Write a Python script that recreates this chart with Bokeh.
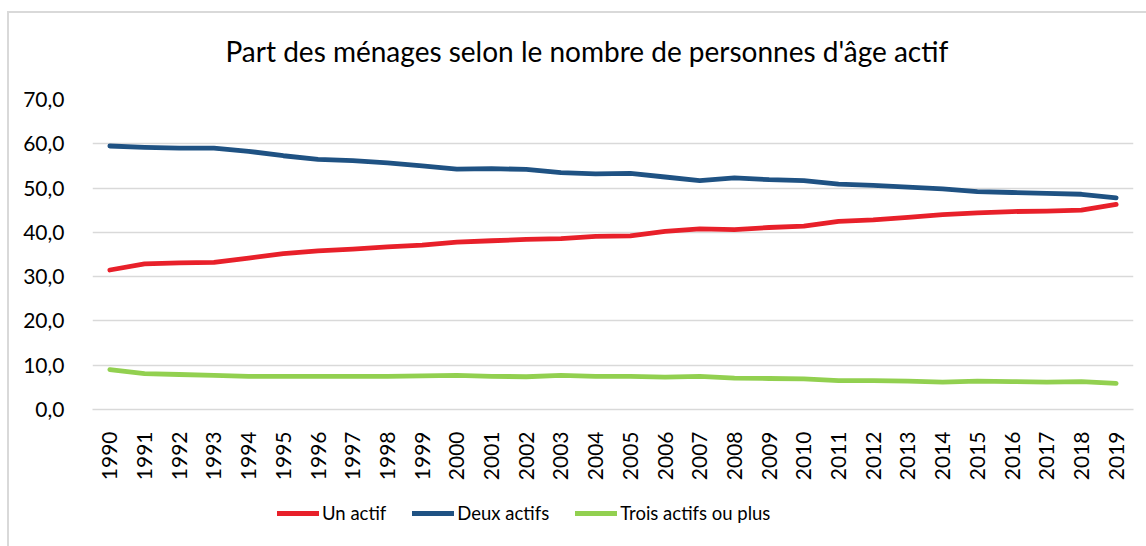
from bokeh.plotting import figure
from bokeh.layouts import column
from bokeh.models import (FactorRange, Range1d, Legend, LegendItem,
                          CustomJSTickFormatter, FixedTicker, InlineStyleSheet)
from bokeh.embed import file_html
from bokeh.resources import INLINE
import math

years = [str(y) for y in range(1990, 2020)]
un_actif = [31.5, 32.9, 33.1, 33.2, 34.2, 35.2, 35.8, 36.2, 36.7, 37.1,
            37.8, 38.1, 38.4, 38.6, 39.1, 39.2, 40.2, 40.8, 40.6, 41.1,
            41.4, 42.5, 42.8, 43.4, 44.0, 44.4, 44.7, 44.8, 45.0, 46.3]
deux_actifs = [59.5, 59.2, 59.0, 59.0, 58.3, 57.3, 56.5, 56.2, 55.7, 55.0,
               54.3, 54.4, 54.2, 53.5, 53.2, 53.3, 52.5, 51.7, 52.3, 51.9,
               51.7, 50.9, 50.6, 50.2, 49.8, 49.2, 49.0, 48.8, 48.6, 47.8]
trois_actifs = [9.0, 8.1, 7.9, 7.7, 7.5, 7.5, 7.5, 7.5, 7.5, 7.6,
                7.7, 7.5, 7.4, 7.7, 7.5, 7.5, 7.3, 7.5, 7.1, 7.0,
                6.9, 6.5, 6.5, 6.4, 6.2, 6.4, 6.3, 6.2, 6.3, 5.9]
y_ticks = [0, 10, 20, 30, 40, 50, 60, 70]
title_text = "Part des ménages selon le nombre de personnes d'âge actif"
series_names = ["Un actif", "Deux actifs", "Trois actifs ou plus"]
colors = ["#E8202A", "#1F5283", "#92D050"]
series = [un_actif, deux_actifs, trois_actifs]

FONT = "Lato"

p = figure(width=1146, height=490, output_backend="svg", toolbar_location=None,
           x_range=FactorRange(*years, range_padding=0),
           y_range=Range1d(0, 70),
           min_border_left=92, min_border_right=13,
           min_border_top=98, min_border_bottom=81,
           title=title_text)
p.outline_line_color = None
p.background_fill_color = "white"
p.border_fill_color = "white"
p.stylesheets = [InlineStyleSheet(css=(
    ":host::after { content: ''; position: absolute; left: 7px; top: 11px; "
    "right: -20px; bottom: -80px; border-left: 2px solid #D9D9D9; "
    "border-top: 2px solid #D9D9D9; pointer-events: none; z-index: 5; }"))]

p.title.align = "left"
p.title.offset = 133
p.title.text_font = FONT
p.title.text_font_size = "28px"
p.title.text_font_style = "normal"
p.title.text_color = "#000000"
p.title.standoff = 63

# grid
p.xgrid.grid_line_color = None
p.ygrid.grid_line_color = "#D9D9D9"
p.ygrid.grid_line_width = 1.5

# y axis
p.yaxis.ticker = FixedTicker(ticks=y_ticks)
p.yaxis.formatter = CustomJSTickFormatter(code="return tick.toFixed(1).replace('.', ',');")
p.yaxis.axis_line_color = None
p.yaxis.major_tick_line_color = None
p.yaxis.minor_tick_line_color = None
p.yaxis.major_label_text_font = FONT
p.yaxis.major_label_text_font_size = "21px"
p.yaxis.major_label_text_color = "#000000"
p.yaxis.major_label_standoff = 22

# x axis
p.xaxis.axis_line_color = "#D9D9D9"
p.xaxis.axis_line_width = 1.5
p.xaxis.major_tick_line_color = None
p.xaxis.minor_tick_line_color = None
p.xaxis.major_label_orientation = math.pi / 2
p.xaxis.major_label_text_font = FONT
p.xaxis.major_label_text_font_size = "21px"
p.xaxis.major_label_text_color = "#000000"
p.xaxis.major_label_standoff = 16

for vals, c in zip(series, colors):
    p.line(years, vals, line_color=c, line_width=4.8, line_cap="round",
           line_join="round")

# legend strip below the chart (its frame is aligned with the main frame)
pl = figure(width=1146, height=56, output_backend="svg", toolbar_location=None,
            x_range=FactorRange(*years, range_padding=0), y_range=Range1d(-2, -1),
            x_axis_type=None, y_axis_type=None,
            min_border_left=0, min_border_right=0,
            min_border_top=0, min_border_bottom=0)
pl.outline_line_color = None
pl.xgrid.visible = False
pl.ygrid.visible = False
pl.border_fill_color = "white"

leg_renderers = []
for vals, c in zip(series, colors):
    r = pl.line(years, vals, line_color=c, line_width=5, line_cap="round")
    leg_renderers.append(r)

legend = Legend(items=[LegendItem(label=n, renderers=[r]) for n, r in zip(series_names, leg_renderers)],
                orientation="horizontal", location=(185, 22),
                glyph_width=42, glyph_height=20, label_standoff=3, spacing=26,
                padding=0, margin=0,
                border_line_color=None, background_fill_alpha=0,
                label_text_font=FONT, label_text_font_size="18.5px",
                label_text_color="#000000")
pl.add_layout(legend, "center")

layout = column(p, pl, spacing=0)
open("out.html", "w").write(file_html(layout, INLINE))
